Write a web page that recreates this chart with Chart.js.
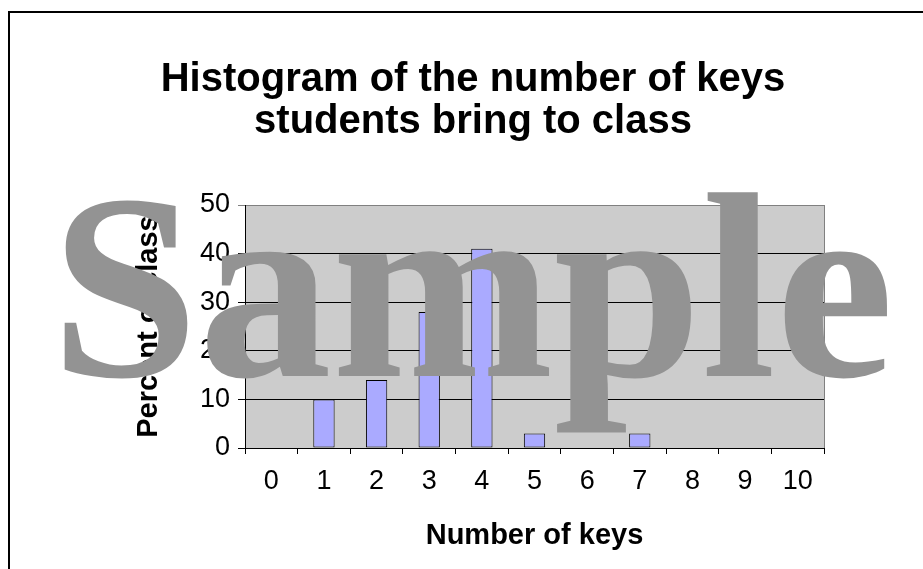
<!DOCTYPE html>
<html>
<head>
<meta charset="utf-8">
<style>
  html, body { margin: 0; padding: 0; background: #ffffff; }
  #wrap { position: relative; width: 923px; height: 569px; }
  canvas { display: block; }
</style>
<script src="https://cdn.jsdelivr.net/npm/chart.js@4/dist/chart.umd.min.js"></script>
</head>
<body>
<div id="wrap"><canvas id="c" width="923" height="569"></canvas></div>
<script>
// ---- data ----
const categories = ['0', '1', '2', '3', '4', '5', '6', '7', '8', '9', '10'];
const percentOfClass = [0, 10, 14, 28, 41, 3, 0, 3, 0, 0, 0];
const yTickValues = [0, 10, 20, 30, 40, 50];
const titleLines = ['Histogram of the number of keys', 'students bring to class'];
const xTitle = 'Number of keys';
const yTitle = 'Percent of class';
const watermark = 'Sample';

const SANS = '"Liberation Sans", Arial, sans-serif';

const decorPlugin = {
  id: 'decor',
  beforeDraw(chart) {
    const ctx = chart.ctx;
    const a = chart.chartArea;
    ctx.save();
    ctx.fillStyle = '#ffffff';
    ctx.fillRect(0, 0, chart.width, chart.height);
    ctx.fillStyle = '#cccccc';
    ctx.fillRect(a.left, a.top, a.right - a.left, a.bottom - a.top);
    ctx.restore();
  },
  afterDraw(chart) {
    const ctx = chart.ctx;
    const a = chart.chartArea;
    ctx.save();
    // plot-area right border
    ctx.strokeStyle = '#808080';
    ctx.lineWidth = 1;
    ctx.beginPath();
    ctx.moveTo(a.right + 0.5, a.top);
    ctx.lineTo(a.right + 0.5, a.bottom);
    ctx.stroke();
    // outer frame (left and top edges visible)
    ctx.strokeStyle = '#000000';
    ctx.lineWidth = 2;
    ctx.beginPath();
    ctx.moveTo(9, chart.height + 2);
    ctx.lineTo(9, 12);
    ctx.lineTo(chart.width + 2, 12);
    ctx.stroke();
    // title
    ctx.fillStyle = '#000000';
    ctx.font = 'bold 40px ' + SANS;
    ctx.textAlign = 'center';
    ctx.textBaseline = 'middle';
    titleLines.forEach((line, i) => ctx.fillText(line, 473, 80 + i * 42));
    // watermark
    ctx.font = 'bold 265px "Liberation Serif", "Times New Roman", serif';
    ctx.fillStyle = '#939393';
    ctx.textBaseline = 'alphabetic';
    ctx.textAlign = 'left';
    const m = ctx.measureText(watermark);
    const inkW = m.actualBoundingBoxRight + m.actualBoundingBoxLeft;
    const targetLeft = 63, targetRight = 888;
    const sx = (targetRight - targetLeft) / inkW;
    ctx.translate(targetLeft, 376);
    ctx.scale(sx, 1);
    ctx.fillText(watermark, m.actualBoundingBoxLeft, 0);
    ctx.restore();
  }
};

new Chart(document.getElementById('c'), {
  type: 'bar',
  data: {
    labels: categories,
    datasets: [{
      data: percentOfClass,
      backgroundColor: '#aaaaff',
      borderColor: '#000000',
      borderWidth: 1,
      borderSkipped: false,
      barPercentage: 0.405,
      categoryPercentage: 1.0
    }]
  },
  options: {
    responsive: false,
    animation: false,
    events: [],
    layout: { padding: { left: 0, right: 99, top: 205, bottom: 0 } },
    plugins: {
      legend: { display: false },
      tooltip: { enabled: false },
      title: { display: false }
    },
    scales: {
      x: {
        type: 'category',
        offset: true,
        grid: {
          offset: true,
          drawOnChartArea: false,
          drawTicks: true,
          tickLength: 6,
          color: '#000000'
        },
        border: { display: true, color: '#000000', width: 1 },
        ticks: {
          color: '#000000',
          font: { family: SANS, size: 27 },
          padding: 11,
          maxRotation: 0,
          autoSkip: false
        },
        title: {
          display: true,
          text: xTitle,
          color: '#000000',
          font: { family: SANS, size: 29, weight: 'bold', lineHeight: 1.2 },
          padding: { top: 0, bottom: 16 }
        },
        afterFit(scale) { scale.height = 569 - 448; }
      },
      y: {
        min: 0,
        max: 50,
        afterBuildTicks(scale) { scale.ticks = yTickValues.map(v => ({ value: v })); },
        grid: {
          drawOnChartArea: true,
          drawTicks: true,
          tickLength: 7,
          color: (c) => (c.tick && c.tick.value === 50 ? '#808080' : '#000000'),
          lineWidth: 1
        },
        border: { display: true, color: '#000000', width: 1 },
        ticks: {
          color: '#000000',
          font: { family: SANS, size: 27 },
          padding: 8
        },
        title: {
          display: true,
          text: yTitle,
          color: '#000000',
          font: { family: SANS, size: 29, weight: 'bold', lineHeight: 1.2 },
          padding: { top: 132, bottom: 0 }
        },
        afterFit(scale) { scale.width = 245; }
      }
    }
  },
  plugins: [decorPlugin]
});
</script>
</body>
</html>
